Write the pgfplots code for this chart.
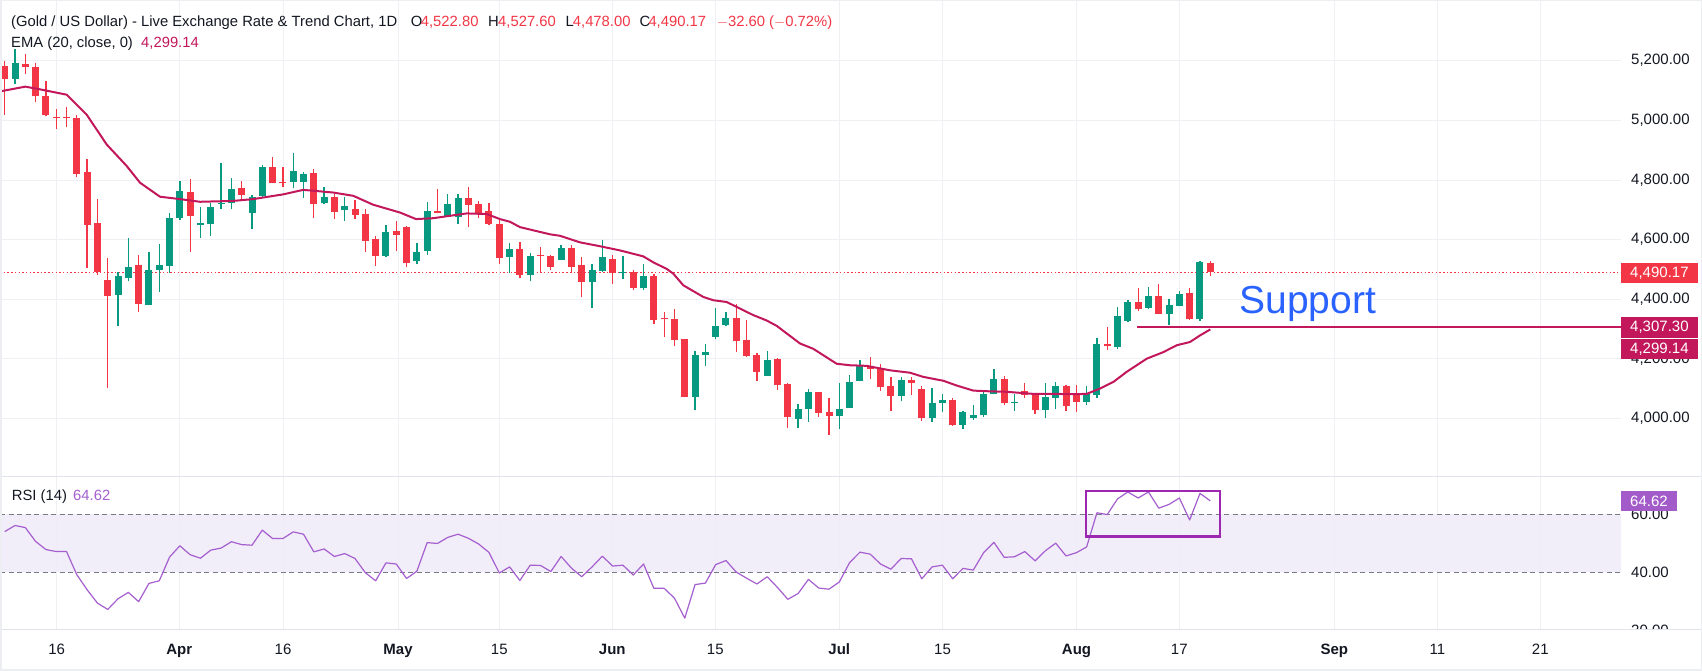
\documentclass[border=0pt]{standalone}
\usepackage{pgfplots}
\usepackage{pgfplotstable}
\pgfplotsset{compat=1.18}
\usepackage{fontspec}
\setmainfont{Liberation Sans}
\definecolor{cgreen}{HTML}{089981}
\definecolor{cred}{HTML}{F23645}
\definecolor{cema}{HTML}{C2185B}
\definecolor{crsi}{HTML}{A55FCF}
\definecolor{cband}{HTML}{F0ECF9}
\definecolor{cgrid}{HTML}{EFF0F3}
\definecolor{ctext}{HTML}{131722}
\definecolor{cdash}{HTML}{787B86}
\definecolor{cblue}{HTML}{2962FF}
\definecolor{cbox}{HTML}{9C27B0}
\definecolor{cframe}{HTML}{EDEEF2}
\definecolor{csep}{HTML}{E0E3EB}
\definecolor{crsibox}{HTML}{A35BC9}
\newcommand{\tvfont}{\fontsize{15bp}{17bp}\selectfont}
\newcommand{\hdfont}{\fontsize{14.8bp}{17bp}\selectfont}
\pgfplotsset{candle/.style={only marks, mark=*, mark size=0pt, mark options={draw=none, fill=none}}}

\pgfplotstableread{
i o h l c
2 5139 5238 5121 5191
12 4416 4491 4310 4477
13 4472 4606 4460 4508
15 4380 4560 4380 4499
16 4497 4587 4424 4516
17 4513 4689 4488 4672
18 4672 4796 4667 4762
20 4650 4708 4606 4655
21 4653 4724 4613 4709
22 4720 4858 4702 4724
23 4724 4806 4702 4769
25 4690 4751 4636 4744
26 4746 4849 4744 4842
29 4793 4892 4772 4831
30 4793 4827 4740 4821
32 4723 4776 4720 4742
34 4700 4743 4663 4713
38 4546 4649 4543 4626
41 4527 4589 4517 4559
42 4563 4726 4550 4696
44 4677 4752 4677 4719
45 4677 4752 4653 4739
50 4542 4589 4487 4569
52 4483 4556 4460 4546
55 4533 4582 4533 4572
58 4457 4517 4370 4499
59 4496 4599 4493 4542
61 4487 4546 4467 4490
63 4437 4519 4430 4479
68 4073 4226 4030 4214
69 4213 4249 4177 4222
70 4273 4372 4267 4312
71 4313 4359 4310 4336
75 4144 4226 4144 4196
78 4000 4050 3970 4032
79 4031 4098 3989 4091
82 4009 4118 3966 4034
83 4036 4148 4036 4124
84 4126 4198 4126 4178
88 4077 4139 4059 4128
91 4003 4104 3988 4054
92 4052 4084 4022 4064
94 3979 4026 3966 4021
95 4003 4046 3996 4011
96 4011 4094 4006 4081
97 4081 4168 4081 4134
99 4052 4083 4026 4054
102 4029 4121 4001 4071
103 4069 4124 4032 4108
106 4056 4111 4046 4081
107 4079 4270 4070 4250
109 4239 4373 4234 4343
110 4327 4398 4323 4391
112 4372 4443 4367 4410
114 4352 4401 4314 4380
115 4379 4429 4376 4417
117 4334 4528 4329 4524
}\greentab

\pgfplotstableread{
i o h l c
1 5182 5200 5019 5139
3 5189 5224 5154 5178
4 5178 5191 5060 5080
5 5082 5132 5013 5019
6 5010 5038 4971 5008
7 5010 5044 4977 5007
8 5009 5018 4810 4820
9 4828 4869 4506 4650
10 4656 4738 4483 4491
11 4466 4539 4102 4410
14 4516 4549 4358 4383
19 4759 4802 4560 4680
24 4772 4798 4736 4750
27 4842 4876 4789 4791
28 4792 4842 4776 4789
31 4824 4836 4672 4720
33 4742 4754 4669 4693
35 4702 4732 4669 4683
36 4686 4704 4560 4597
37 4602 4613 4513 4546
39 4628 4661 4562 4616
40 4642 4645 4507 4523
43 4696 4769 4688 4688
46 4739 4776 4642 4717
47 4719 4729 4673 4688
48 4696 4722 4649 4652
49 4652 4669 4517 4540
51 4569 4592 4470 4483
53 4549 4574 4493 4546
54 4546 4550 4497 4510
56 4572 4582 4487 4510
57 4514 4542 4407 4457
60 4536 4548 4453 4487
62 4492 4499 4430 4437
64 4479 4484 4317 4330
65 4336 4356 4273 4334
66 4334 4369 4243 4263
67 4266 4268 4071 4073
72 4336 4384 4223 4260
73 4262 4332 4207 4210
74 4212 4219 4127 4157
76 4199 4202 4097 4113
77 4116 4119 3967 4004
80 4088 4091 4006 4019
81 4022 4068 3946 4009
85 4178 4206 4132 4166
86 4169 4183 4092 4106
87 4108 4138 4026 4076
89 4128 4139 4079 4121
90 4101 4109 3992 4003
93 4064 4070 3977 3979
98 4134 4144 4046 4052
100 4094 4118 4070 4079
101 4082 4086 4016 4028
104 4108 4114 4027 4042
105 4084 4114 4022 4056
108 4250 4308 4229 4242
111 4391 4437 4360 4369
113 4410 4450 4350 4352
116 4421 4437 4331 4334
118 4522.80 4527.60 4478.00 4490.17
}\redtab

\pgfplotstableread{
i r
1 54.0
2 56.1
3 55.4
4 50.6
5 47.8
6 47.1
7 47.1
8 39.1
9 33.9
10 29.3
11 27.1
12 30.8
13 33.0
14 29.8
15 36.1
16 37.0
17 45.2
18 49.1
19 46.0
20 44.8
21 47.6
22 48.3
23 50.5
24 49.5
25 49.3
26 54.5
27 51.6
28 51.6
29 53.9
30 53.1
31 47.0
32 48.0
33 45.4
34 46.4
35 44.7
36 39.8
37 37.0
38 43.2
39 42.8
40 37.8
41 40.3
42 50.2
43 49.9
44 52.0
45 53.1
46 51.7
47 49.7
48 46.8
49 39.7
50 41.8
51 37.1
52 42.4
53 42.3
54 40.2
55 45.4
56 41.4
57 38.4
58 41.8
59 45.5
60 42.1
61 42.4
62 39.0
63 42.8
64 34.4
65 34.4
66 31.0
67 24.1
68 35.7
69 36.2
70 42.6
71 44.0
72 40.0
73 37.9
74 35.9
75 38.4
76 34.7
77 30.6
78 32.6
79 37.5
80 34.5
81 34.1
82 36.6
83 43.3
84 46.9
85 46.2
86 42.8
87 41.0
88 44.7
89 44.6
90 37.7
91 41.8
92 42.4
93 37.7
94 41.3
95 40.7
96 46.7
97 50.3
98 45.1
99 45.3
100 47.1
101 43.9
102 47.4
103 50.0
104 45.6
105 46.7
106 48.7
107 60.5
108 59.9
109 65.3
110 67.7
111 65.6
112 67.7
113 62.1
114 63.4
115 65.6
116 58.0
117 67.2
118 64.62
}\rsitab

\begin{document}
\begin{tikzpicture}
\useasboundingbox (0,0) rectangle (1702bp,671bp);
\fill[white] (0,0) rectangle (1702bp,671bp);

% ---------------- main price panel ----------------
\begin{axis}[
  at={(0bp,194.3bp)}, anchor=south west,
  width=1621bp, height=476.7bp, scale only axis,
  xmin=0, xmax=1621, ymin=3805.4, ymax=5403.5,
  axis line style={draw=none}, tick style={draw=none},
  xtick={56.7,179.3,283,398,499.3,612.3,715.3,839.3,942.5,1076.5,1179.3,1334.3,1437.3,1540.3},
  xticklabels={},
  ytick={4000,4200,4400,4600,4800,5000,5200},
  yticklabels={{4,000.00},{4,200.00},{4,400.00},{4,600.00},{4,800.00},{5,000.00},{5,200.00}},
  yticklabel pos=right,
  yticklabel style={anchor=west, inner sep=0pt, xshift=10bp, font=\tvfont, text=ctext},
  grid=major, grid style={cgrid, line width=1bp},
]
% last close dotted line
\addplot[cred, line width=1bp, dash pattern=on 1.5bp off 2.2bp] coordinates {(0,4490.17) (1621,4490.17)};
% wicks
\addplot[candle, error bars/.cd, y dir=plus, y explicit, error mark=none,
  error bar style={line width=1.3bp, draw=cgreen}]
  table[x expr={4.7+(\thisrow{i}-1)*10.304}, y=l, y error expr={\thisrow{h}-\thisrow{l}}] {\greentab};
\addplot[candle, error bars/.cd, y dir=plus, y explicit, error mark=none,
  error bar style={line width=1.3bp, draw=cred}]
  table[x expr={4.7+(\thisrow{i}-1)*10.304}, y=l, y error expr={\thisrow{h}-\thisrow{l}}] {\redtab};
% bodies
\addplot[candle, error bars/.cd, y dir=plus, y explicit, error mark=none,
  error bar style={line width=7bp, draw=cgreen}]
  table[x expr={4.7+(\thisrow{i}-1)*10.304}, y=o, y error expr={max(\thisrow{c}-\thisrow{o},3.5)}] {\greentab};
\addplot[candle, error bars/.cd, y dir=plus, y explicit, error mark=none,
  error bar style={line width=7bp, draw=cred}]
  table[x expr={4.7+(\thisrow{i}-1)*10.304}, y=c, y error expr={max(\thisrow{o}-\thisrow{c},3.5)}] {\redtab};
% EMA 20
\addplot[cema, line width=2bp, line join=round] coordinates {
(0,5097) (25.3,5113) (40,5104) (66.7,5086) (86.7,5019) (106.7,4919) (126.7,4847) (140,4791)
(160,4744) (180,4736) (200,4727) (233.3,4730) (253.3,4736) (283.3,4752) (303.3,4767)
(333.3,4758) (353.3,4747) (373.3,4717) (400,4691) (416,4669) (433.3,4672) (466.7,4688)
(486.7,4686) (500,4669) (510,4660) (520,4642) (550,4618) (560,4613) (580,4591) (600,4578)
(620,4564) (643.3,4544) (653.3,4524) (666.7,4502) (673.3,4486) (683.3,4447) (703.3,4408)
(713.3,4397) (726.7,4391) (753.3,4347) (766.7,4329) (776.7,4311) (800,4252) (813.3,4234)
(836.7,4184) (850,4179) (866.7,4177) (890,4162) (910,4154) (923.3,4140) (943.3,4127)
(956.7,4111) (973.3,4094) (986.7,4092) (1006.7,4090) (1033.3,4083) (1053.3,4083)
(1073.3,4082) (1086.7,4083) (1100,4101) (1113.3,4123) (1126.7,4157) (1146.7,4201)
(1163.3,4223) (1176.7,4246) (1190,4257) (1200,4279) (1210.3,4299.14)};
% support line
\addplot[cema, line width=2bp] coordinates {(1137.3,4307.3) (1621,4307.3)};
\node[anchor=base west, inner sep=0pt, text=cblue, font=\fontsize{39bp}{44bp}\selectfont] at (axis cs:1239.3,4350.9) {Support};
\end{axis}

% ---------------- RSI panel ----------------
\begin{axis}[
  at={(0bp,41bp)}, anchor=south west,
  width=1621bp, height=153.3bp, scale only axis,
  xmin=0, xmax=1621, ymin=20, ymax=72.97,
  axis line style={draw=none}, tick style={draw=none},
  xtick={56.7,179.3,283,398,499.3,612.3,715.3,839.3,942.5,1076.5,1179.3,1334.3,1437.3,1540.3},
  xticklabels={16,\textbf{Apr},16,\textbf{May},15,\textbf{Jun},15,\textbf{Jul},15,\textbf{Aug},17,\textbf{Sep},11,21},
  xticklabel style={anchor=base, inner sep=0pt, yshift=-25bp, font=\tvfont, text=ctext},
  xmajorgrids, grid style={cgrid, line width=1bp},
  ytick={20,40,60}, yticklabels={{20.00},{40.00},{60.00}},
  yticklabel pos=right,
  yticklabel style={anchor=west, inner sep=0pt, xshift=10bp, font=\tvfont, text=ctext},
]
\addplot[fill=cband, draw=none, fill opacity=0.9] coordinates {(0,40) (1621,40) (1621,60) (0,60) (0,40)};
\addplot[cdash, line width=1bp, dash pattern=on 5bp off 3.5bp] coordinates {(0,60) (1621,60)};
\addplot[cdash, line width=1bp, dash pattern=on 5bp off 3.5bp] coordinates {(0,40) (1621,40)};
\addplot[crsi, line width=1.2bp, line join=round] table[x expr={4.7+(\thisrow{i}-1)*10.304}, y=r] {\rsitab};
\draw[cbox, line width=2.2bp] (axis cs:1085.7,68.1) rectangle (axis cs:1220,52.3);
\end{axis}

% cut the 20.00 label as the time scale does in the reference
\fill[white] (1621bp,0) rectangle (1702bp,40.5bp);

% separators and frame
\draw[csep, line width=1bp] (0,194.3bp) -- (1702bp,194.3bp);
\draw[csep, line width=1bp] (0,41bp) -- (1702bp,41bp);
\draw[cframe, line width=3bp] (0,0) rectangle (1702bp,671bp);

% price-scale labels
\node[anchor=west, fill=cred, text=white, font=\tvfont, inner xsep=9bp, inner ysep=0pt, minimum height=20.5bp] at (1621bp,397.9bp) {4,490.17};
\node[anchor=west, fill=cema, text=white, font=\tvfont, inner xsep=9bp, inner ysep=0pt, minimum height=20.5bp] at (1621bp,343.3bp) {4,307.30};
\node[anchor=west, fill=cema, text=white, font=\tvfont, inner xsep=9bp, inner ysep=0pt, minimum height=20.5bp] at (1621bp,322.2bp) {4,299.14};
\node[anchor=west, fill=crsibox, text=white, font=\tvfont, inner xsep=9bp, inner ysep=0pt, minimum height=20bp] at (1621bp,170bp) {64.62};

% legends
\begin{scope}[every node/.style={anchor=base west, inner sep=0pt, font=\hdfont}]
\node[text=ctext] at (11bp,644.5bp) {(Gold / US Dollar) - Live Exchange Rate \& Trend Chart, 1D};
\node[text=ctext] at (410.7bp,644.5bp) {O};
\node[text=cred] at (420.7bp,644.5bp) {4,522.80};
\node[text=ctext] at (488bp,644.5bp) {H};
\node[text=cred] at (498bp,644.5bp) {4,527.60};
\node[text=ctext] at (565.5bp,644.5bp) {L};
\node[text=cred] at (572.7bp,644.5bp) {4,478.00};
\node[text=ctext] at (639.5bp,644.5bp) {C};
\node[text=cred] at (648.3bp,644.5bp) {4,490.17};
\node[text=cred] at (716.7bp,644.5bp) {$-$32.60 ($-$0.72\%)};
\node[text=ctext] at (11bp,623.5bp) {EMA (20, close, 0)};
\node[text=cema] at (141bp,623.5bp) {4,299.14};
\node[text=ctext] at (11.7bp,170bp) {RSI (14)};
\node[text=crsi] at (73bp,170bp) {64.62};
\end{scope}
\end{tikzpicture}
\end{document}
